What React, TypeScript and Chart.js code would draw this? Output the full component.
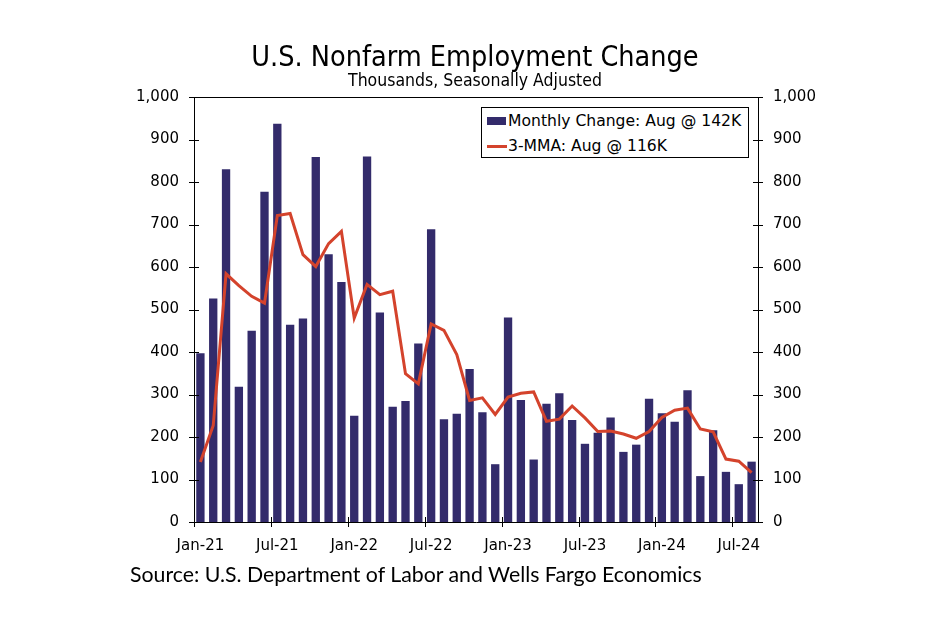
import React, { useEffect, useRef } from "react";
import { Chart, registerables } from "chart.js";

Chart.register(...registerables);

const months = [
  "Jan-21", "Feb-21", "Mar-21", "Apr-21", "May-21", "Jun-21", "Jul-21", "Aug-21", "Sep-21", "Oct-21", "Nov-21", "Dec-21",
  "Jan-22", "Feb-22", "Mar-22", "Apr-22", "May-22", "Jun-22", "Jul-22", "Aug-22", "Sep-22", "Oct-22", "Nov-22", "Dec-22",
  "Jan-23", "Feb-23", "Mar-23", "Apr-23", "May-23", "Jun-23", "Jul-23", "Aug-23", "Sep-23", "Oct-23", "Nov-23", "Dec-23",
  "Jan-24", "Feb-24", "Mar-24", "Apr-24", "May-24", "Jun-24", "Jul-24", "Aug-24",
];

const monthlyChange = [
  397, 526, 830, 318, 450, 777, 937, 464, 479, 859, 630, 565,
  250, 860, 493, 271, 285, 420, 689, 242, 255, 360, 258, 136,
  481, 287, 147, 278, 303, 240, 184, 210, 246, 165, 182, 290,
  256, 236, 310, 108, 216, 118, 89, 142,
];

const threeMMA = [
  141, 227, 584, 556, 531, 515, 721, 726, 629, 601, 655, 684,
  480, 559, 535, 543, 349, 325, 466, 451, 394, 286, 292, 253,
  294, 303, 306, 237, 242, 273, 245, 213, 214, 207, 197, 213,
  246, 263, 268, 219, 212, 148, 143, 116,
];

const yMin = 0;
const yMax = 1000;
const yStep = 100;
const labelEvery = 6;

const BAR_COLOR = "#332B6B";
const LINE_COLOR = "#D4432C";
const TICK_FONT = "'DejaVu Sans', Verdana, sans-serif";

const axisMarks = {
  id: "axisMarks",
  afterDraw(chart: any) {
    const { ctx, chartArea: a, scales } = chart;
    ctx.save();
    ctx.strokeStyle = "#000";
    ctx.lineWidth = 1;
    const seg = (x1: number, y1: number, x2: number, y2: number) => {
      ctx.beginPath();
      ctx.moveTo(x1, y1);
      ctx.lineTo(x2, y2);
      ctx.stroke();
    };
    seg(a.left, Math.round(a.top) + 0.5, a.right, Math.round(a.top) + 0.5);
    scales.y.ticks.forEach((t: any) => {
      const y = Math.round(scales.y.getPixelForValue(t.value)) + 0.5;
      seg(a.left - 5, y, a.left + 5, y);
      seg(a.right - 5, y, a.right + 5, y);
    });
    const xs = scales.x;
    const half = (xs.getPixelForValue(1) - xs.getPixelForValue(0)) / 2;
    for (let i = 0; i < months.length; i += labelEvery) {
      const x = Math.round(xs.getPixelForValue(i) - half) + 0.5;
      seg(x, a.bottom - 5, x, a.bottom + 5);
    }
    ctx.restore();
  },
};

export default function App() {
  const ref = useRef<HTMLCanvasElement | null>(null);

  useEffect(() => {
    if (!ref.current) return;
    const tickFont = { family: TICK_FONT, size: 15 };
    const yTickCfg = {
      min: yMin,
      max: yMax,
      ticks: {
        stepSize: yStep,
        padding: 7,
        color: "#000",
        font: tickFont,
        callback: (v: any) => Number(v).toLocaleString("en-US"),
      },
      grid: { display: false },
      border: { display: true, color: "#000", width: 1 },
    };
    const chart = new Chart(ref.current, {
      type: "bar",
      data: {
        labels: months,
        datasets: [
          {
            type: "line",
            label: "3-MMA",
            data: threeMMA,
            borderColor: LINE_COLOR,
            backgroundColor: LINE_COLOR,
            borderWidth: 3,
            pointRadius: 0,
            tension: 0,
            order: 0,
            yAxisID: "y",
          },
          {
            type: "bar",
            label: "Monthly Change",
            data: monthlyChange,
            backgroundColor: BAR_COLOR,
            barPercentage: 0.65,
            categoryPercentage: 1,
            order: 1,
            yAxisID: "y",
          },
        ],
      },
      options: {
        responsive: false,
        animation: false,
        layout: { padding: { left: 114, right: 112, top: 97, bottom: 68 } },
        plugins: { legend: { display: false }, tooltip: { enabled: false } },
        scales: {
          x: {
            type: "category",
            offset: true,
            grid: { display: false, offset: true },
            border: { display: true, color: "#000", width: 1 },
            ticks: {
              autoSkip: false,
              maxRotation: 0,
              minRotation: 0,
              padding: 7,
              color: "#000",
              font: tickFont,
              callback: (_v: any, i: number) => (i % labelEvery === 0 ? months[i] : ""),
            },
            afterFit: (s: any) => {
              s.height = 40;
            },
          },
          y: {
            ...yTickCfg,
            position: "left",
            afterFit: (s: any) => {
              s.width = 80;
            },
          },
          y2: {
            ...yTickCfg,
            position: "right",
            afterFit: (s: any) => {
              s.width = 80;
            },
          },
        },
      } as any,
      plugins: [axisMarks],
    });
    return () => chart.destroy();
  }, []);

  const lastBar = monthlyChange[monthlyChange.length - 1];
  const lastLine = threeMMA[threeMMA.length - 1];
  const lastMonth = months[months.length - 1].split("-")[0];

  return (
    <div style={{ position: "fixed", left: 0, top: 0, width: 950, height: 630, background: "#fff" }}>
      <canvas ref={ref} width={950} height={630} style={{ position: "absolute", left: 0, top: 0 }} />
      <div
        style={{
          position: "absolute",
          left: 0,
          width: 950,
          top: 39,
          textAlign: "center",
          fontFamily: "'DejaVu Sans', sans-serif",
          fontStretch: "condensed",
          fontSize: 28.5,
          lineHeight: "36px",
          color: "#000",
        }}
      >
        U.S. Nonfarm Employment Change
      </div>
      <div
        style={{
          position: "absolute",
          left: 0,
          width: 950,
          top: 69,
          textAlign: "center",
          fontFamily: "'DejaVu Sans', sans-serif",
          fontStretch: "condensed",
          fontSize: 17.5,
          lineHeight: "22px",
          color: "#000",
        }}
      >
        Thousands, Seasonally Adjusted
      </div>
      <div
        style={{
          position: "absolute",
          left: 481,
          top: 107,
          width: 266,
          height: 49,
          border: "1px solid #000",
          background: "#fff",
          fontFamily: TICK_FONT,
          fontSize: 15.6,
          color: "#000",
        }}
      >
        <div style={{ position: "absolute", left: 5, top: 9, width: 19, height: 8, background: BAR_COLOR }} />
        <div style={{ position: "absolute", left: 26, top: 3, lineHeight: "20px", whiteSpace: "nowrap" }}>
          {`Monthly Change: ${lastMonth} @ ${lastBar}K`}
        </div>
        <div style={{ position: "absolute", left: 5, top: 37, width: 20, height: 3, background: LINE_COLOR }} />
        <div style={{ position: "absolute", left: 26, top: 28, lineHeight: "20px", whiteSpace: "nowrap" }}>
          {`3-MMA: ${lastMonth} @ ${lastLine}K`}
        </div>
      </div>
      <div
        style={{
          position: "absolute",
          left: 130,
          top: 560,
          fontFamily: "Lato, sans-serif",
          fontSize: 21.3,
          lineHeight: "28px",
          color: "#000",
          whiteSpace: "nowrap",
        }}
      >
        Source: U.S. Department of Labor and Wells Fargo Economics
      </div>
    </div>
  );
}
